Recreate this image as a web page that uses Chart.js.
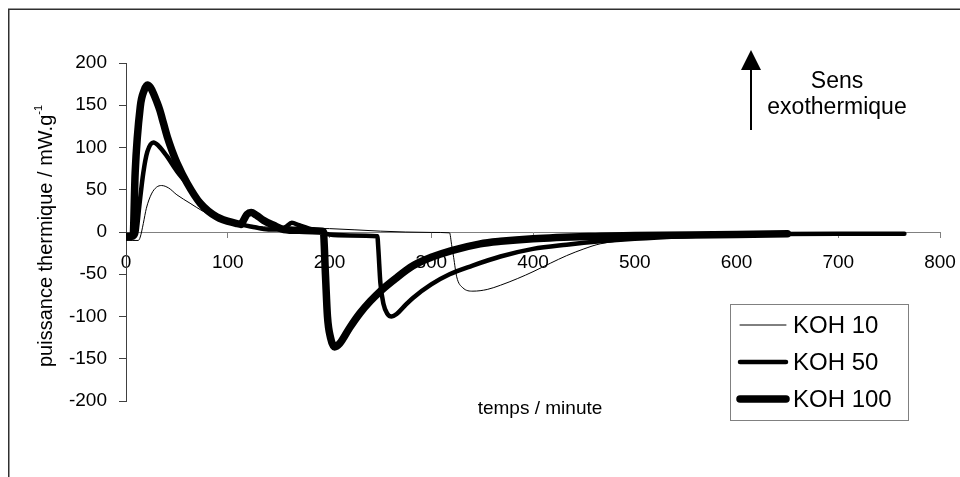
<!DOCTYPE html>
<html>
<head>
<meta charset="utf-8">
<script src="https://cdn.jsdelivr.net/npm/chart.js@4/dist/chart.umd.min.js"></script>
<style>
  html, body { margin: 0; padding: 0; background: #fff; }
  #c { display: block; }
</style>
</head>
<body>
<canvas id="c" width="960" height="477"></canvas>
<script>
// Thermal power curves (mW/g) versus time (minutes) for three KOH concentrations.
const seriesNames = ['KOH 10', 'KOH 50', 'KOH 100'];

const koh10Time  = [0, 6, 12, 14, 17, 20, 25, 30, 35, 42, 50, 63, 75, 90, 100, 120, 150, 200, 250, 300, 318, 320, 322, 325, 331, 341, 355, 368, 385, 400, 417, 433, 450, 466, 500, 550, 600, 650, 700, 765];
const koh10Power = [-10, -10, -10, -6, 10, 28, 45, 53, 55, 52, 44, 34, 25, 16, 12, 8, 5, 4, 1, -0.5, -1, -15, -30, -53, -66, -70, -68, -63, -55, -47, -37, -28, -20, -14, -9, -6, -4, -3, -2, -2];

const koh50Time  = [0, 8, 10, 13, 17, 21, 27, 32, 40, 50, 60, 73, 89, 109, 125, 140, 152, 157, 163, 170, 180, 190, 200, 220, 247, 248, 250, 253, 257, 261, 266, 275, 282, 300, 318, 340, 368, 400, 433, 466, 500, 550, 600, 700, 765];
const koh50Power = [-5, -5, -2, 30, 70, 95, 106, 102, 90, 72, 57, 35, 18, 10, 6, 3, 3, 6, 11, 8, 4, 1, -3, -4, -5, -20, -60, -85, -97, -100, -97, -86, -78, -62, -50, -40, -29, -20, -15, -11, -8, -5, -3, -2, -2];

const koh100Time  = [0, 6, 7, 9, 14, 18, 21, 24, 27, 30, 33, 37, 41, 45, 50, 60, 73, 89, 109, 113, 116, 119, 123, 128, 135, 145, 155, 170, 193, 194, 196, 198, 201, 205, 210, 220, 230, 240, 250, 265, 282, 300, 320, 348, 368, 400, 466, 500, 600, 650];
const koh100Power = [-5, -5, -4, 70, 148, 168, 174, 171, 164, 155, 145, 128, 111, 97, 82, 58, 34, 18, 10, 9, 15, 21, 23, 20, 14, 8, 3, 2, 1, 0, -50, -100, -125, -136, -132, -113, -96, -82, -70, -55, -40, -30, -22, -14, -11, -8, -5, -4, -3, -2];

const lineWidths = [1, 4.5, 7.5];

const xTickValues = [0, 100, 200, 300, 400, 500, 600, 700, 800];
const yTickValues = [-200, -150, -100, -50, 0, 50, 100, 150, 200];

const FONT = "'Liberation Sans', Arial, Helvetica, sans-serif";
Chart.defaults.font.family = FONT;
Chart.defaults.color = '#000';

function toPoints(xs, ys) {
  return xs.map((x, i) => ({ x: x, y: ys[i] }));
}

const times = [koh10Time, koh50Time, koh100Time];
const powers = [koh10Power, koh50Power, koh100Power];

const datasets = seriesNames.map((name, i) => ({
  label: name,
  data: toPoints(times[i], powers[i]),
  borderColor: '#000',
  backgroundColor: '#000',
  borderWidth: lineWidths[i],
  pointRadius: 0,
  fill: false,
  cubicInterpolationMode: 'monotone',
  borderCapStyle: 'round',
  borderJoinStyle: 'round'
}));

// Frame, axis titles, exothermic-direction arrow and legend box.
const decorations = {
  id: 'decorations',
  beforeDraw(chart) {
    const ctx = chart.ctx;
    ctx.save();
    ctx.fillStyle = '#fff';
    ctx.fillRect(0, 0, chart.width, chart.height);
    ctx.restore();
  },
  afterDraw(chart) {
    const ctx = chart.ctx;
    ctx.save();

    // outer frame (top and left edges)
    ctx.strokeStyle = '#303030';
    ctx.lineWidth = 1.5;
    ctx.beginPath();
    ctx.moveTo(8.75, chart.height);
    ctx.lineTo(8.75, 9.25);
    ctx.lineTo(chart.width, 9.25);
    ctx.stroke();

    ctx.fillStyle = '#000';

    // y-axis title with superscript
    ctx.save();
    ctx.translate(46, 236);
    ctx.rotate(-Math.PI / 2);
    ctx.textBaseline = 'middle';
    ctx.textAlign = 'left';
    const mainText = 'puissance thermique / mW.g';
    const supText = '-1';
    ctx.font = '20px ' + FONT;
    const wMain = ctx.measureText(mainText).width;
    ctx.font = '11px ' + FONT;
    const wSup = ctx.measureText(supText).width;
    const start = -(wMain + wSup) / 2;
    ctx.font = '20px ' + FONT;
    ctx.fillText(mainText, start, 0);
    ctx.font = '11px ' + FONT;
    ctx.fillText(supText, start + wMain, -7);
    ctx.restore();

    // x-axis title
    ctx.font = '19px ' + FONT;
    ctx.textAlign = 'center';
    ctx.textBaseline = 'middle';
    ctx.fillText('temps / minute', 540, 409);

    // exothermic direction arrow
    ctx.strokeStyle = '#000';
    ctx.lineWidth = 2;
    ctx.beginPath();
    ctx.moveTo(751, 130);
    ctx.lineTo(751, 66);
    ctx.stroke();
    ctx.beginPath();
    ctx.moveTo(751, 50);
    ctx.lineTo(741, 70);
    ctx.lineTo(761, 70);
    ctx.closePath();
    ctx.fill();

    ctx.font = '23px ' + FONT;
    ctx.textAlign = 'center';
    ctx.textBaseline = 'alphabetic';
    ctx.fillText('Sens', 837, 88);
    ctx.fillText('exothermique', 837, 114);

    // legend
    ctx.strokeStyle = '#808080';
    ctx.lineWidth = 1;
    ctx.strokeRect(730.5, 304.5, 178, 116);
    const rowY = [325, 362, 399];
    chart.data.datasets.forEach((ds, i) => {
      ctx.strokeStyle = ds.borderColor;
      ctx.lineWidth = ds.borderWidth;
      ctx.lineCap = 'round';
      ctx.beginPath();
      ctx.moveTo(740, rowY[i]);
      ctx.lineTo(786, rowY[i]);
      ctx.stroke();
      ctx.font = '24px ' + FONT;
      ctx.textAlign = 'left';
      ctx.textBaseline = 'middle';
      ctx.fillStyle = '#000';
      ctx.fillText(ds.label, 793, rowY[i] + 1);
    });

    ctx.restore();
  }
};

new Chart(document.getElementById('c'), {
  type: 'line',
  data: { datasets: datasets },
  options: {
    responsive: false,
    animation: false,
    devicePixelRatio: 1,
    layout: { padding: { left: 0, top: 63, right: 20, bottom: 76 } },
    plugins: {
      legend: { display: false },
      title: { display: false },
      tooltip: { enabled: false }
    },
    scales: {
      x: {
        type: 'linear',
        position: { y: 0 },
        min: 0,
        max: 800,
        afterBuildTicks: s => { s.ticks = xTickValues.map(v => ({ value: v })); },
        afterFit: s => { s.paddingLeft = 0; s.paddingRight = 0; },
        ticks: {
          font: { size: 19 },
          color: '#000',
          padding: 14,
          maxRotation: 0,
          autoSkip: false
        },
        grid: { drawOnChartArea: false, drawTicks: true, tickLength: 5, color: '#808080' },
        border: { display: true, color: '#808080', width: 1 }
      },
      y: {
        type: 'linear',
        position: 'left',
        min: -200,
        max: 200,
        afterBuildTicks: s => { s.ticks = yTickValues.map(v => ({ value: v })); },
        afterFit: s => { s.width = 126; s.paddingTop = 0; s.paddingBottom = 0; },
        ticks: {
          font: { size: 19 },
          color: '#000',
          padding: 12,
          autoSkip: false
        },
        grid: { drawOnChartArea: false, drawTicks: true, tickLength: 7, color: '#404040' },
        border: { display: true, color: '#404040', width: 1 }
      }
    }
  },
  plugins: [decorations]
});
</script>
</body>
</html>
